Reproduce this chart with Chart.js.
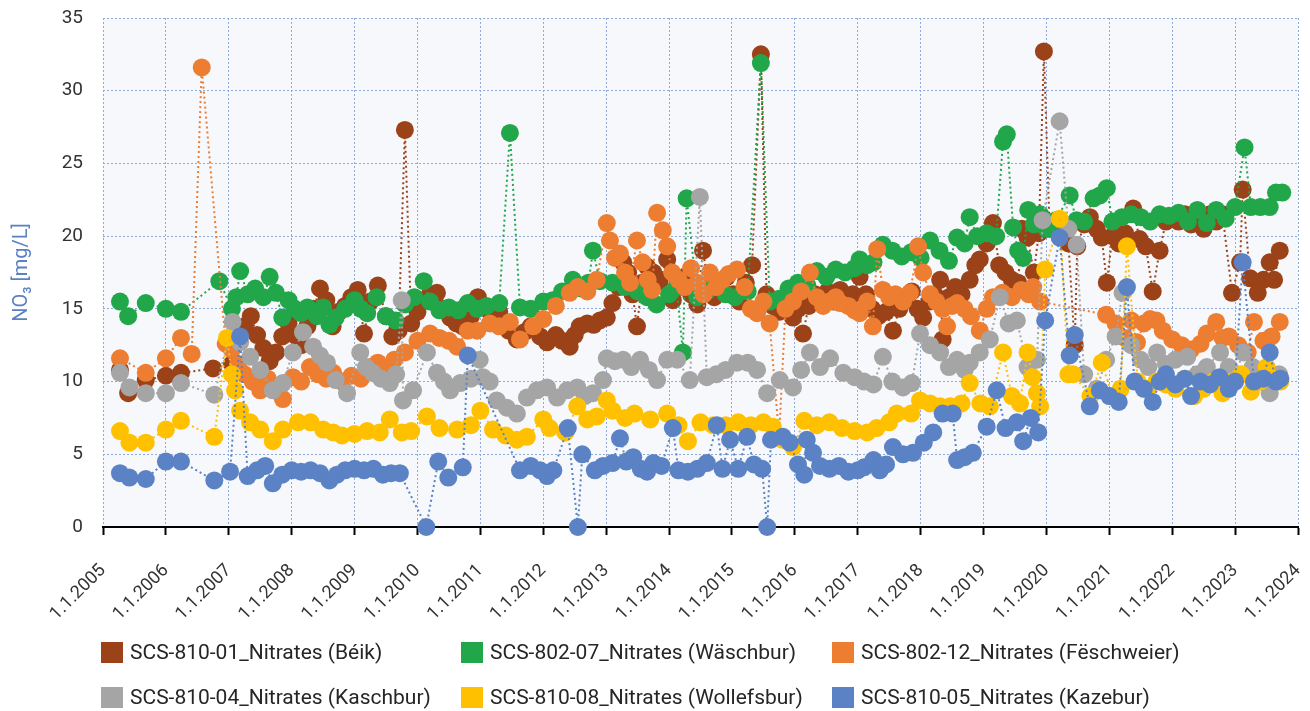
<!DOCTYPE html>
<html>
<head>
<meta charset="utf-8">
<script src="https://cdn.jsdelivr.net/npm/chart.js@4.4.0/dist/chart.umd.min.js"></script>
<style>
  body { margin: 0; background: #ffffff; font-family: Roboto, "Open Sans", sans-serif; }
  #wrap { position: relative; width: 1310px; height: 711px; }
  .item { position: absolute; display: flex; align-items: center; font-size: 21px; color: #262626; white-space: nowrap; transform: translateY(-50%); }
  .box { width: 22px; height: 21px; margin-right: 7px; }
</style>
</head>
<body>
<div id="wrap">
  <canvas id="chart" width="1310" height="711"></canvas>
  <div id="legend"></div>
</div>
<script>
// x = decimal year, y = NO3 in mg/L
const beik = [
  [2005.27, 10.8], [2005.40, 9.2], [2005.68, 10.1], [2006.0, 10.4], [2006.24, 10.6], [2006.75, 10.9],
  [2007.05, 11.2], [2007.15, 12.8], [2007.25, 13.8], [2007.35, 14.5], [2007.45, 13.2], [2007.55, 12.3],
  [2007.65, 11.4], [2007.75, 12.0], [2007.85, 13.1], [2007.95, 14.0], [2008.05, 13.2], [2008.15, 12.5],
  [2008.25, 13.8], [2008.35, 15.0], [2008.45, 16.4], [2008.55, 15.6], [2008.65, 13.8], [2008.75, 14.8],
  [2008.85, 15.2], [2008.95, 15.8], [2009.05, 16.3], [2009.15, 13.3], [2009.25, 15.5], [2009.37, 16.6],
  [2009.5, 14.5], [2009.6, 13.1], [2009.7, 13.5], [2009.8, 27.3], [2009.9, 14.0], [2010.0, 14.8],
  [2010.1, 15.6], [2010.2, 16.0], [2010.31, 16.1], [2010.42, 15.0], [2010.52, 14.4], [2010.62, 14.0],
  [2010.72, 13.8], [2010.85, 14.5], [2010.96, 15.8], [2011.1, 15.0], [2011.2, 14.4], [2011.3, 14.8],
  [2011.45, 13.5], [2011.58, 12.9], [2011.7, 13.4], [2011.8, 13.8], [2011.95, 13.1], [2012.06, 12.7],
  [2012.2, 13.2], [2012.3, 12.8], [2012.42, 12.4], [2012.5, 13.2], [2012.58, 13.8], [2012.7, 14.0],
  [2012.8, 13.9], [2012.9, 14.2], [2013.01, 14.4], [2013.1, 15.4], [2013.2, 16.5], [2013.27, 18.2],
  [2013.35, 17.5], [2013.42, 16.0], [2013.49, 13.8], [2013.57, 16.8], [2013.65, 17.9], [2013.75, 17.5],
  [2013.85, 16.9], [2013.97, 18.4], [2014.06, 15.6], [2014.15, 16.5], [2014.25, 17.2], [2014.35, 16.0],
  [2014.45, 15.3], [2014.54, 19.0], [2014.62, 16.8], [2014.72, 15.8], [2014.82, 16.5], [2014.92, 17.2],
  [2015.02, 16.0], [2015.12, 15.5], [2015.22, 16.8], [2015.32, 18.0], [2015.46, 32.5], [2015.55, 16.0],
  [2015.65, 15.2], [2015.75, 14.8], [2015.87, 15.5], [2015.97, 14.4], [2016.05, 15.0], [2016.13, 13.3],
  [2016.22, 15.2], [2016.32, 16.0], [2016.42, 15.6], [2016.52, 16.2], [2016.62, 15.5], [2016.72, 16.3],
  [2016.82, 15.8], [2016.92, 16.0], [2017.03, 17.2], [2017.13, 16.0], [2017.23, 15.0], [2017.33, 14.5],
  [2017.45, 14.8], [2017.56, 13.5], [2017.66, 15.0], [2017.76, 15.8], [2017.86, 16.2], [2017.95, 15.0],
  [2018.04, 14.4], [2018.14, 15.5], [2018.22, 16.0], [2018.31, 17.0], [2018.35, 12.9], [2018.45, 15.8],
  [2018.55, 16.5], [2018.65, 16.0], [2018.78, 17.0], [2018.87, 18.0], [2018.94, 18.4], [2019.05, 19.5],
  [2019.15, 20.9], [2019.25, 18.0], [2019.35, 17.5], [2019.45, 17.0], [2019.55, 16.8], [2019.61, 20.5],
  [2019.7, 19.9], [2019.8, 17.5], [2019.88, 20.2], [2019.96, 32.7], [2020.05, 20.5], [2020.2, 21.0],
  [2020.35, 19.5], [2020.45, 12.5], [2020.49, 19.3], [2020.6, 20.8], [2020.69, 21.3], [2020.8, 20.5],
  [2020.88, 19.9], [2020.96, 16.8], [2021.05, 20.0], [2021.15, 19.5], [2021.25, 20.2], [2021.38, 21.9],
  [2021.48, 19.8], [2021.58, 19.3], [2021.69, 16.2], [2021.8, 19.0], [2021.9, 21.0], [2022.0, 21.3],
  [2022.1, 21.0], [2022.2, 21.5], [2022.3, 20.8], [2022.4, 21.2], [2022.5, 20.5], [2022.6, 21.5],
  [2022.7, 21.0], [2022.8, 21.5], [2022.95, 16.1], [2023.08, 18.2], [2023.12, 23.2], [2023.24, 17.1],
  [2023.36, 16.1], [2023.45, 17.0], [2023.55, 18.2], [2023.62, 17.0], [2023.71, 19.0]
];

const waeschbur = [
  [2005.27, 15.5], [2005.40, 14.5], [2005.68, 15.4], [2006.0, 15.0], [2006.24, 14.8], [2006.85, 16.9],
  [2007.05, 15.0], [2007.12, 15.8], [2007.18, 17.6], [2007.3, 16.0], [2007.42, 16.4], [2007.55, 15.8],
  [2007.65, 17.2], [2007.75, 16.1], [2007.85, 14.4], [2007.95, 15.6], [2008.05, 15.0], [2008.15, 14.7],
  [2008.25, 15.1], [2008.4, 14.5], [2008.5, 15.1], [2008.6, 13.9], [2008.7, 14.4], [2008.85, 15.0],
  [2009.0, 15.6], [2009.1, 15.0], [2009.2, 14.7], [2009.35, 15.8], [2009.5, 14.5], [2009.65, 14.2],
  [2009.8, 15.3], [2009.95, 15.8], [2010.1, 16.9], [2010.2, 15.5], [2010.35, 14.9], [2010.5, 15.1],
  [2010.65, 14.9], [2010.8, 15.4], [2010.95, 15.0], [2011.1, 15.2], [2011.3, 15.4], [2011.47, 27.1],
  [2011.63, 15.1], [2011.8, 15.0], [2012.0, 15.5], [2012.15, 15.6], [2012.3, 16.2], [2012.47, 17.0],
  [2012.6, 16.4], [2012.72, 16.8], [2012.79, 19.0], [2012.9, 16.9], [2013.1, 16.8], [2013.3, 16.5],
  [2013.5, 16.2], [2013.65, 15.8], [2013.8, 15.3], [2014.0, 16.0], [2014.12, 16.5], [2014.22, 12.0],
  [2014.28, 22.6], [2014.45, 15.8], [2014.6, 16.2], [2014.75, 16.8], [2014.9, 16.0], [2015.05, 15.8],
  [2015.25, 16.2], [2015.46, 31.9], [2015.6, 15.5], [2015.75, 15.7], [2015.9, 16.4], [2016.05, 16.8],
  [2016.2, 16.6], [2016.35, 17.6], [2016.5, 17.2], [2016.65, 17.7], [2016.8, 17.5], [2016.95, 17.8],
  [2017.03, 18.4], [2017.15, 18.0], [2017.25, 18.2], [2017.4, 19.4], [2017.55, 19.0], [2017.7, 18.6],
  [2017.85, 18.9], [2018.0, 18.5], [2018.15, 19.7], [2018.3, 19.0], [2018.45, 18.3], [2018.58, 19.9],
  [2018.7, 19.5], [2018.78, 21.3], [2018.9, 20.0], [2019.05, 20.2], [2019.2, 20.0], [2019.31, 26.5],
  [2019.37, 27.0], [2019.47, 20.6], [2019.55, 19.0], [2019.63, 18.5], [2019.71, 21.8], [2019.8, 20.8],
  [2019.9, 21.5], [2020.0, 20.5], [2020.15, 21.1], [2020.37, 22.8], [2020.48, 21.1], [2020.6, 21.0],
  [2020.75, 22.6], [2020.85, 22.8], [2020.96, 23.3], [2021.05, 21.0], [2021.2, 21.3], [2021.35, 21.5],
  [2021.5, 21.3], [2021.65, 21.0], [2021.8, 21.5], [2021.95, 21.4], [2022.1, 21.6], [2022.25, 21.0],
  [2022.4, 21.8], [2022.55, 20.9], [2022.7, 21.8], [2022.85, 21.2], [2023.0, 22.0], [2023.15, 26.1],
  [2023.25, 22.0], [2023.4, 22.0], [2023.55, 22.0], [2023.65, 23.0], [2023.75, 23.0]
];

const feschweier = [
  [2005.27, 11.6], [2005.68, 10.6], [2006.0, 11.6], [2006.24, 13.0], [2006.41, 11.9], [2006.57, 31.6],
  [2006.95, 12.6], [2007.05, 12.2], [2007.15, 11.2], [2007.25, 10.5], [2007.38, 10.0], [2007.5, 9.4],
  [2007.62, 10.2], [2007.75, 9.6], [2007.86, 8.8], [2008.02, 10.3], [2008.15, 10.0], [2008.29, 11.0],
  [2008.42, 10.5], [2008.55, 10.2], [2008.66, 10.6], [2008.8, 10.0], [2008.95, 10.4], [2009.1, 10.2],
  [2009.25, 11.0], [2009.37, 11.3], [2009.5, 10.8], [2009.63, 11.5], [2009.8, 12.0], [2010.0, 12.8],
  [2010.2, 13.3], [2010.35, 13.0], [2010.5, 12.8], [2010.63, 12.4], [2010.8, 13.5], [2010.95, 13.5],
  [2011.15, 14.0], [2011.3, 13.8], [2011.47, 14.1], [2011.63, 12.9], [2011.84, 13.8], [2012.0, 14.3],
  [2012.2, 15.2], [2012.42, 16.1], [2012.55, 16.5], [2012.7, 16.2], [2012.85, 17.0], [2013.01, 20.9],
  [2013.06, 19.7], [2013.14, 18.5], [2013.22, 18.8], [2013.3, 17.5], [2013.38, 16.8], [2013.49, 19.7],
  [2013.58, 18.2], [2013.66, 17.0], [2013.73, 16.3], [2013.81, 21.6], [2013.9, 20.4], [2013.97, 19.3],
  [2014.05, 17.5], [2014.15, 17.0], [2014.25, 16.5], [2014.35, 17.8], [2014.45, 16.8], [2014.55, 16.0],
  [2014.65, 17.5], [2014.75, 16.5], [2014.85, 17.0], [2014.95, 17.4], [2015.08, 17.7], [2015.2, 16.5],
  [2015.3, 15.0], [2015.4, 14.7], [2015.5, 15.5], [2015.6, 14.0], [2015.75, 6.2], [2015.85, 15.0],
  [2015.97, 15.5], [2016.1, 16.2], [2016.24, 17.5], [2016.35, 15.8], [2016.45, 15.2], [2016.55, 15.5],
  [2016.65, 15.8], [2016.72, 15.4], [2016.85, 15.2], [2016.95, 14.9], [2017.03, 14.7], [2017.15, 15.5],
  [2017.24, 13.8], [2017.31, 19.1], [2017.4, 16.3], [2017.5, 15.8], [2017.6, 16.0], [2017.72, 15.5],
  [2017.83, 16.1], [2017.96, 19.3], [2018.04, 17.5], [2018.15, 16.0], [2018.25, 15.5], [2018.35, 15.0],
  [2018.42, 13.8], [2018.5, 15.2], [2018.58, 15.4], [2018.7, 15.0], [2018.8, 14.5], [2018.94, 13.5],
  [2019.05, 15.0], [2019.15, 15.8], [2019.3, 16.1], [2019.45, 15.8], [2019.6, 16.3], [2019.72, 16.0],
  [2019.79, 16.5], [2019.9, 15.5], [2020.95, 14.6], [2021.1, 14.0], [2021.25, 13.0], [2021.35, 14.2],
  [2021.44, 12.7], [2021.55, 14.0], [2021.65, 14.3], [2021.75, 14.2], [2021.85, 13.5], [2022.0, 12.9],
  [2022.15, 12.5], [2022.3, 12.2], [2022.45, 12.6], [2022.55, 13.3], [2022.7, 14.1], [2022.8, 13.0],
  [2022.9, 13.1], [2023.05, 12.5], [2023.2, 12.0], [2023.3, 14.1], [2023.45, 12.8], [2023.58, 13.1],
  [2023.71, 14.1]
];

const kaschbur = [
  [2005.27, 10.6], [2005.42, 9.6], [2005.68, 9.2], [2006.0, 9.2], [2006.24, 9.9], [2006.77, 9.1],
  [2007.06, 14.1], [2007.18, 12.7], [2007.34, 11.7], [2007.5, 10.8], [2007.7, 9.4], [2007.86, 9.9],
  [2008.02, 12.0], [2008.18, 13.4], [2008.34, 12.4], [2008.45, 11.8], [2008.56, 11.3], [2008.7, 10.1],
  [2008.88, 9.2], [2009.09, 12.0], [2009.18, 11.0], [2009.29, 10.6], [2009.42, 10.2], [2009.56, 9.9],
  [2009.66, 10.5], [2009.75, 15.6], [2009.77, 8.7], [2009.93, 9.4], [2010.15, 12.0], [2010.31, 10.6],
  [2010.42, 10.0], [2010.52, 9.4], [2010.68, 9.9], [2010.85, 10.2], [2010.99, 11.5], [2011.04, 10.3],
  [2011.15, 10.0], [2011.26, 8.7], [2011.42, 8.2], [2011.58, 7.8], [2011.74, 8.9], [2011.9, 9.4],
  [2012.06, 9.6], [2012.22, 8.9], [2012.38, 9.4], [2012.54, 9.6], [2012.66, 9.0], [2012.79, 9.2],
  [2012.95, 10.1], [2013.01, 11.6], [2013.14, 11.4], [2013.27, 11.5], [2013.4, 11.0], [2013.54, 11.5],
  [2013.68, 10.8], [2013.81, 10.1], [2013.97, 11.5], [2014.13, 11.5], [2014.33, 10.1], [2014.49, 22.7],
  [2014.6, 10.3], [2014.75, 10.5], [2014.9, 10.8], [2015.08, 11.3], [2015.25, 11.3], [2015.4, 10.8],
  [2015.56, 9.2], [2015.76, 10.1], [2015.97, 9.6], [2016.1, 10.8], [2016.24, 12.0], [2016.4, 11.0],
  [2016.56, 11.6], [2016.77, 10.6], [2016.95, 10.3], [2017.1, 10.0], [2017.25, 9.8], [2017.4, 11.7],
  [2017.55, 10.0], [2017.72, 9.6], [2017.86, 9.9], [2017.99, 13.3], [2018.15, 12.5], [2018.31, 12.0],
  [2018.45, 11.0], [2018.58, 11.5], [2018.7, 10.8], [2018.78, 11.3], [2018.94, 12.0], [2019.1, 12.9],
  [2019.26, 15.8], [2019.4, 14.0], [2019.53, 14.2], [2019.7, 11.0], [2019.85, 11.5], [2019.94, 21.1],
  [2020.21, 27.9], [2020.35, 20.5], [2020.48, 19.4], [2020.6, 10.5], [2020.8, 9.5], [2020.95, 11.5],
  [2021.1, 13.1], [2021.21, 16.1], [2021.35, 12.5], [2021.5, 11.5], [2021.62, 11.0], [2021.76, 12.0],
  [2021.9, 11.2], [2022.05, 11.5], [2022.24, 11.7], [2022.4, 10.5], [2022.55, 11.0], [2022.76, 12.0],
  [2022.9, 11.0], [2023.0, 10.5], [2023.13, 12.0], [2023.28, 11.0], [2023.4, 10.0], [2023.55, 9.2],
  [2023.7, 10.5]
];

const wollefsbur = [
  [2005.27, 6.6], [2005.42, 5.8], [2005.68, 5.8], [2006.0, 6.7], [2006.24, 7.3], [2006.77, 6.2],
  [2006.97, 13.0], [2007.05, 10.5], [2007.1, 9.4], [2007.18, 8.0], [2007.34, 7.2], [2007.5, 6.7],
  [2007.7, 5.9], [2007.86, 6.7], [2008.1, 7.2], [2008.3, 7.2], [2008.5, 6.7], [2008.66, 6.5],
  [2008.8, 6.3], [2009.0, 6.4], [2009.2, 6.6], [2009.4, 6.5], [2009.56, 7.4], [2009.75, 6.5],
  [2009.9, 6.6], [2010.15, 7.6], [2010.35, 6.8], [2010.63, 6.7], [2010.85, 7.0], [2011.0, 8.0],
  [2011.2, 6.7], [2011.4, 6.3], [2011.58, 6.0], [2011.74, 6.2], [2012.0, 7.4], [2012.1, 6.8],
  [2012.35, 6.5], [2012.54, 8.3], [2012.7, 7.4], [2012.85, 7.6], [2013.01, 8.7], [2013.1, 8.0],
  [2013.3, 7.5], [2013.45, 7.8], [2013.7, 7.4], [2013.97, 7.8], [2014.15, 7.0], [2014.3, 5.9],
  [2014.5, 7.2], [2014.7, 7.0], [2014.9, 7.0], [2015.1, 7.2], [2015.3, 7.0], [2015.5, 7.2],
  [2015.65, 6.9], [2015.8, 6.0], [2015.97, 5.5], [2016.15, 7.3], [2016.35, 7.0], [2016.55, 7.2],
  [2016.75, 6.8], [2016.95, 6.6], [2017.15, 6.5], [2017.3, 6.8], [2017.5, 7.2], [2017.62, 7.8],
  [2017.85, 7.8], [2017.99, 8.7], [2018.15, 8.5], [2018.31, 8.3], [2018.47, 8.3], [2018.65, 8.5],
  [2018.78, 9.9], [2018.95, 8.5], [2019.1, 8.3], [2019.31, 12.0], [2019.45, 9.0], [2019.58, 8.5],
  [2019.7, 12.0], [2019.78, 10.3], [2019.85, 9.2], [2019.9, 8.3], [2019.98, 17.7], [2020.21, 21.2],
  [2020.35, 10.5], [2020.42, 10.5], [2020.7, 9.0], [2020.88, 11.3], [2021.05, 9.0], [2021.18, 9.5],
  [2021.28, 19.3], [2021.45, 10.0], [2021.6, 9.5], [2021.75, 10.0], [2021.9, 9.8], [2022.05, 9.5],
  [2022.2, 10.2], [2022.35, 9.0], [2022.5, 9.5], [2022.65, 10.0], [2022.8, 9.2], [2022.95, 10.0],
  [2023.1, 10.5], [2023.25, 9.3], [2023.4, 10.0], [2023.5, 11.0], [2023.6, 10.2], [2023.72, 10.0]
];

const kazebur = [
  [2005.27, 3.7], [2005.42, 3.4], [2005.68, 3.3], [2006.0, 4.5], [2006.24, 4.5], [2006.77, 3.2],
  [2007.02, 3.8], [2007.18, 13.1], [2007.3, 3.5], [2007.45, 3.9], [2007.58, 4.2], [2007.7, 3.0],
  [2007.85, 3.6], [2008.0, 3.9], [2008.15, 3.8], [2008.3, 3.9], [2008.45, 3.7], [2008.6, 3.2],
  [2008.72, 3.6], [2008.85, 3.9], [2009.0, 4.0], [2009.15, 3.9], [2009.3, 4.0], [2009.45, 3.6],
  [2009.58, 3.7], [2009.72, 3.7], [2010.14, 0.0], [2010.33, 4.5], [2010.49, 3.4], [2010.72, 4.1],
  [2010.8, 11.8], [2011.63, 3.9], [2011.8, 4.2], [2011.95, 3.9], [2012.06, 3.5], [2012.16, 3.9],
  [2012.39, 6.8], [2012.55, 0.0], [2012.62, 5.0], [2012.82, 3.9], [2012.95, 4.2], [2013.1, 4.4],
  [2013.22, 6.1], [2013.32, 4.5], [2013.43, 4.8], [2013.55, 4.0], [2013.65, 3.8], [2013.75, 4.4],
  [2013.88, 4.2], [2014.06, 6.8], [2014.15, 3.9], [2014.3, 3.8], [2014.45, 4.0], [2014.6, 4.4],
  [2014.76, 7.0], [2014.85, 4.0], [2014.97, 6.0], [2015.1, 4.0], [2015.24, 6.2], [2015.35, 4.3],
  [2015.48, 4.0], [2015.56, 0.0], [2015.62, 6.0], [2015.81, 6.2], [2015.92, 5.8], [2016.05, 4.3],
  [2016.15, 3.6], [2016.19, 6.0], [2016.29, 5.1], [2016.4, 4.2], [2016.55, 4.0], [2016.7, 4.2],
  [2016.85, 3.8], [2017.0, 3.9], [2017.1, 4.1], [2017.25, 4.6], [2017.35, 3.9], [2017.45, 4.3],
  [2017.56, 5.5], [2017.72, 5.0], [2017.88, 5.1], [2018.05, 5.8], [2018.2, 6.5], [2018.35, 7.8],
  [2018.51, 7.8], [2018.58, 4.6], [2018.7, 4.8], [2018.83, 5.1], [2019.05, 6.9], [2019.21, 9.4],
  [2019.35, 6.8], [2019.53, 7.2], [2019.63, 5.9], [2019.75, 7.5], [2019.87, 6.5], [2019.98, 14.2],
  [2020.21, 19.9], [2020.37, 11.8], [2020.45, 13.2], [2020.69, 8.3], [2020.85, 9.4], [2021.0, 9.0],
  [2021.15, 8.6], [2021.28, 16.5], [2021.4, 10.0], [2021.55, 9.5], [2021.69, 8.6], [2021.8, 10.0],
  [2021.9, 10.5], [2022.05, 9.8], [2022.2, 10.2], [2022.3, 9.0], [2022.45, 10.0], [2022.6, 9.8],
  [2022.75, 10.3], [2022.9, 9.5], [2023.0, 10.0], [2023.12, 18.2], [2023.3, 10.0], [2023.45, 10.2],
  [2023.55, 12.0], [2023.65, 10.0], [2023.72, 10.2]
];

const seriesNames = [
  'SCS-810-01_Nitrates (Béik)',
  'SCS-802-07_Nitrates (Wäschbur)',
  'SCS-802-12_Nitrates (Fëschweier)',
  'SCS-810-04_Nitrates (Kaschbur)',
  'SCS-810-08_Nitrates (Wollefsbur)',
  'SCS-810-05_Nitrates (Kazebur)'
];
const seriesData = [beik, waeschbur, feschweier, kaschbur, wollefsbur, kazebur];
const seriesColors = ['#9c4218', '#22a64a', '#ed7d31', '#a5a5a5', '#ffc000', '#5a82c4'];

const yearMin = 2005;
const yearMax = 2024;
const yTitle = 'NO₃ [mg/L]';

const gridColor = '#8eaadb';

const plotBackground = {
  id: 'plotBackground',
  beforeDraw(chart) {
    const { ctx, chartArea: a } = chart;
    ctx.save();
    ctx.fillStyle = '#f6f8fc';
    ctx.fillRect(a.left, a.top, a.right - a.left, a.bottom - a.top);
    ctx.restore();
  }
};

const datasets = seriesData.map((pts, i) => ({
  label: seriesNames[i],
  data: pts.map(([x, y]) => ({ x, y })),
  showLine: true,
  borderColor: seriesColors[i],
  backgroundColor: seriesColors[i],
  borderWidth: 2,
  borderDash: [2, 3],
  pointRadius: 9,
  pointHoverRadius: 9,
  pointBorderWidth: 0,
  clip: false,
  order: seriesData.length - i
}));

new Chart(document.getElementById('chart'), {
  type: 'scatter',
  data: { datasets },
  options: {
    responsive: false,
    animation: false,
    // plot area: left 103, top 18, right 1298, bottom 527
    layout: { padding: { top: 18, right: 12, left: 0, bottom: 0 } },
    plugins: {
      legend: { display: false },
      tooltip: { enabled: false }
    },
    scales: {
      x: {
        type: 'linear',
        min: yearMin,
        max: yearMax,
        afterFit(scale) {
          scale.height = 184;
          scale.paddingLeft = 0;
          scale.paddingRight = 0;
        },
        ticks: {
          stepSize: 1,
          autoSkip: false,
          minRotation: 45,
          maxRotation: 45,
          color: '#333333',
          padding: 25,
          font: { family: 'Roboto', size: 18 },
          callback: v => '1.1.' + v
        },
        grid: {
          color: gridColor,
          lineWidth: 1,
          tickColor: '#000000',
          tickLength: 8,
          tickWidth: 2,
          tickBorderDash: []
        },
        border: { display: true, color: '#000000', width: 2, dash: [2, 2] }
      },
      y: {
        min: 0,
        max: 35,
        afterFit(scale) {
          scale.width = 103;
          scale.paddingTop = 0;
          scale.paddingBottom = 0;
        },
        ticks: {
          stepSize: 5,
          color: '#333333',
          padding: 20,
          font: { family: 'Roboto', size: 19 }
        },
        grid: { color: gridColor, lineWidth: 1, drawTicks: false },
        border: { display: false, dash: [2, 2] },
        title: {
          display: true,
          text: yTitle,
          color: '#5b80c5',
          padding: { top: 10, bottom: 0 },
          font: { family: 'Roboto', size: 20 }
        }
      }
    }
  },
  plugins: [plotBackground]
});

// legend, 3 columns x 2 rows
const legendCols = [101, 461, 832];
const legendRows = [652, 697];
const legendEl = document.getElementById('legend');
seriesNames.forEach((name, i) => {
  const item = document.createElement('div');
  item.className = 'item';
  item.style.left = legendCols[i % 3] + 'px';
  item.style.top = legendRows[Math.floor(i / 3)] + 'px';
  const box = document.createElement('span');
  box.className = 'box';
  box.style.background = seriesColors[i];
  item.appendChild(box);
  item.appendChild(document.createTextNode(name));
  legendEl.appendChild(item);
});
</script>
</body>
</html>
